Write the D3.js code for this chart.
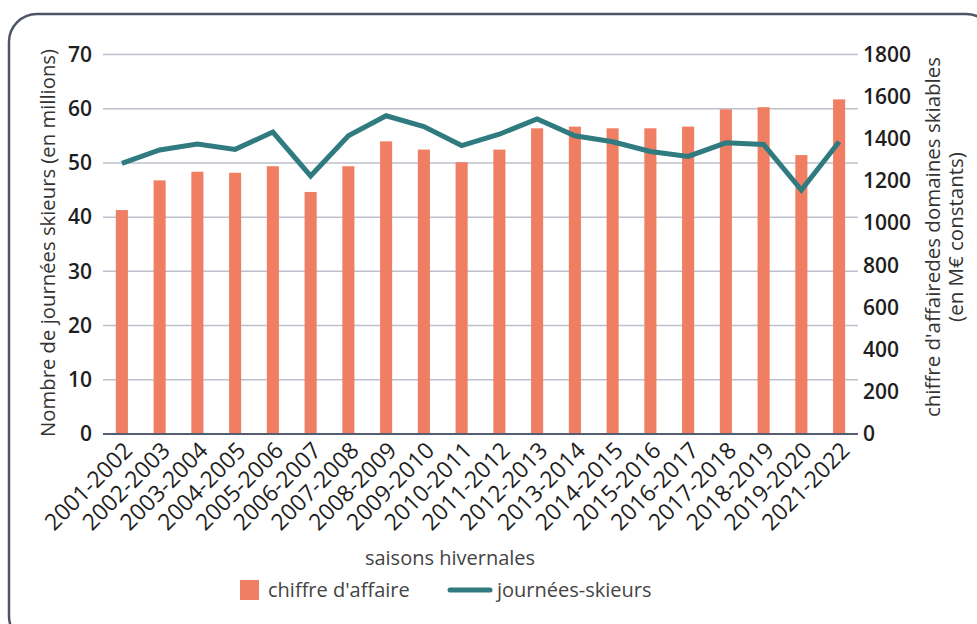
<!doctype html>
<html>
<head>
<meta charset="utf-8">
<script src="https://cdn.jsdelivr.net/npm/d3@7"></script>
<style>
  body { margin: 0; background: #fff; }
  svg { display: block; font-family: "Open Sans", sans-serif; }
  .grid line { stroke: #bcc0cc; stroke-width: 1.5; }
  .tick text { fill: #1e1e1e; }
</style>
</head>
<body>
<svg width="977" height="624"></svg>
<script>
// saisons hivernales (2020-2021 absente)
var seasons = ["2001-2002","2002-2003","2003-2004","2004-2005","2005-2006","2006-2007","2007-2008",
  "2008-2009","2009-2010","2010-2011","2011-2012","2012-2013","2013-2014","2014-2015","2015-2016",
  "2016-2017","2017-2018","2018-2019","2019-2020","2021-2022"];

// chiffre d'affaires des domaines skiables, M€ constants (axe droit)
var chiffreAffaire = [1062,1203,1244,1239,1270,1148,1270,1388,1349,1289,1349,1450,1458,1450,
  1450,1458,1540,1550,1323,1587];

// journées-skieurs en millions (axe gauche)
var journeesSkieurs = [49.9,52.4,53.5,52.5,55.7,47.6,55.0,58.7,56.7,53.2,55.3,58.1,55.0,53.9,
  52.1,51.2,53.7,53.4,45.0,53.9];

var leftTicks = [0,10,20,30,40,50,60,70];
var rightTicks = [0,200,400,600,800,1000,1200,1400,1600,1800];

var svg = d3.select("svg");
var plotLeft = 103, plotRight = 858, plotTop = 54.5, plotBottom = 434;

// cadre arrondi
svg.append("rect")
  .attr("x", 9).attr("y", 14)
  .attr("width", 985).attr("height", 630)
  .attr("rx", 28).attr("ry", 28)
  .attr("fill", "none")
  .attr("stroke", "#4d5566")
  .attr("stroke-width", 2.5);

var x = d3.scaleBand().domain(seasons).range([plotLeft, plotRight])
  .paddingInner(0.68).paddingOuter(0.34);
var yL = d3.scaleLinear().domain([0, 70]).range([plotBottom, plotTop]);
var yR = d3.scaleLinear().domain([0, 1800]).range([plotBottom, plotTop]);

// grille
svg.append("g").attr("class", "grid")
  .selectAll("line").data(leftTicks.slice(1)).enter().append("line")
  .attr("x1", plotLeft).attr("x2", plotRight)
  .attr("y1", function(d) { return yL(d); })
  .attr("y2", function(d) { return yL(d); });

// barres
svg.selectAll(".bar").data(chiffreAffaire).enter().append("rect")
  .attr("class", "bar")
  .attr("x", function(d, i) { return x(seasons[i]); })
  .attr("width", x.bandwidth())
  .attr("y", function(d) { return yR(d); })
  .attr("height", function(d) { return plotBottom - yR(d); })
  .attr("fill", "#ef7e62");

// ligne de base
svg.append("line")
  .attr("x1", plotLeft).attr("x2", plotRight)
  .attr("y1", plotBottom).attr("y2", plotBottom)
  .attr("stroke", "#555e70").attr("stroke-width", 2);

// courbe journées-skieurs
var line = d3.line()
  .x(function(d, i) { return x(seasons[i]) + x.bandwidth() / 2; })
  .y(function(d) { return yL(d); });

svg.append("path").datum(journeesSkieurs)
  .attr("d", line)
  .attr("fill", "none")
  .attr("stroke", "#2f7b7f")
  .attr("stroke-width", 5)
  .attr("stroke-linejoin", "miter");

// axes
var gl = svg.append("g").attr("transform", "translate(" + plotLeft + ",0)")
  .call(d3.axisLeft(yL).tickValues(leftTicks).tickSize(0).tickPadding(11));
gl.select(".domain").remove();
gl.selectAll("text").attr("font-size", 21).attr("font-weight", 600).attr("font-family", "Open Sans");

var gr = svg.append("g").attr("transform", "translate(" + plotRight + ",0)")
  .call(d3.axisRight(yR).tickValues(rightTicks).tickFormat(d3.format("d")).tickSize(0).tickPadding(5));
gr.select(".domain").remove();
gr.selectAll("text").attr("font-size", 21).attr("font-weight", 600).attr("font-family", "Open Sans");

var gx = svg.append("g").attr("transform", "translate(0," + plotBottom + ")")
  .call(d3.axisBottom(x).tickSize(0));
gx.select(".domain").remove();
gx.selectAll("text")
  .attr("font-size", 23)
  .attr("font-family", "Open Sans")
  .attr("text-anchor", "end")
  .attr("y", 0).attr("dy", 0)
  .attr("transform", "translate(12,18) rotate(-45)");

// titres d'axes
svg.append("text")
  .attr("transform", "translate(55,243) rotate(-90)")
  .attr("text-anchor", "middle")
  .attr("font-size", 20.3)
  .attr("fill", "#333")
  .text("Nombre de journées skieurs (en millions)");

svg.append("text")
  .attr("transform", "translate(940,237) rotate(-90)")
  .attr("text-anchor", "middle")
  .attr("font-size", 20.5)
  .attr("fill", "#333")
  .text("chiffre d'affairedes domaines skiables");

svg.append("text")
  .attr("transform", "translate(963,237) rotate(-90)")
  .attr("text-anchor", "middle")
  .attr("font-size", 20.5)
  .attr("fill", "#333")
  .text("(en M€ constants)");

svg.append("text")
  .attr("x", 450).attr("y", 565)
  .attr("text-anchor", "middle")
  .attr("font-size", 20)
  .attr("fill", "#444")
  .text("saisons hivernales");

// légende
svg.append("rect")
  .attr("x", 240).attr("y", 580).attr("width", 19).attr("height", 20)
  .attr("fill", "#ef7e62");
svg.append("text")
  .attr("x", 268).attr("y", 597)
  .attr("font-size", 20).attr("fill", "#444")
  .text("chiffre d'affaire");
svg.append("line")
  .attr("x1", 450).attr("x2", 490).attr("y1", 590).attr("y2", 590)
  .attr("stroke", "#2f7b7f").attr("stroke-width", 5).attr("stroke-linecap", "round");
svg.append("text")
  .attr("x", 497).attr("y", 597)
  .attr("font-size", 20).attr("fill", "#444")
  .text("journées-skieurs");
</script>
</body>
</html>
